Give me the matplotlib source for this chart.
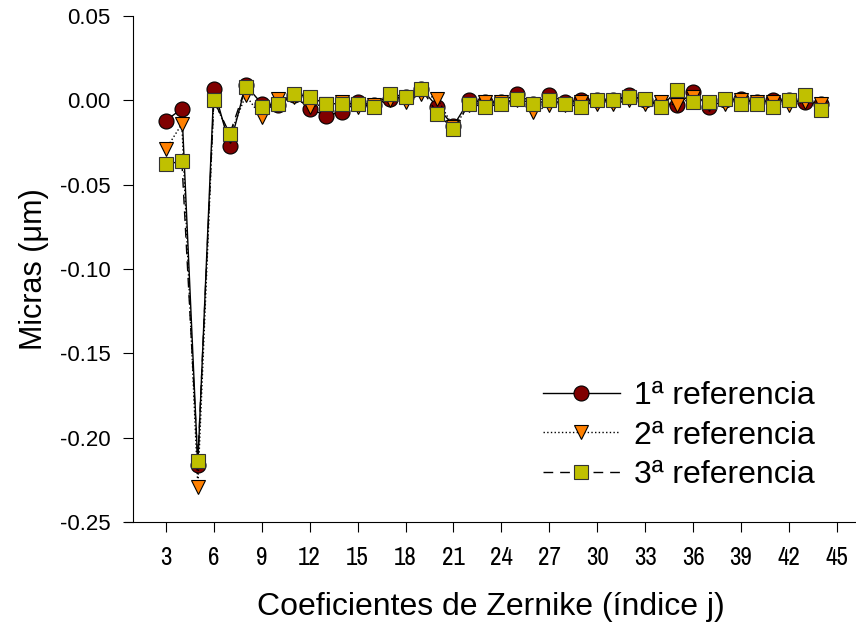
import numpy as np
import matplotlib.pyplot as plt
from matplotlib import font_manager

plt.rcParams['font.family'] = ['Liberation Sans', 'DejaVu Sans']

# indice j de Zernike
j = list(range(3, 45))

ref1 = [-0.012, -0.005, -0.216, 0.007, -0.027, 0.009, -0.002, -0.003, 0.003, -0.005,
        -0.009, -0.007, -0.001, -0.003, 0.001, 0.002, 0.007, -0.004, -0.015, 0.000,
        -0.001, -0.001, 0.004, -0.002, 0.003, -0.001, 0.000, 0.000, 0.000, 0.003,
        0.000, -0.002, -0.003, 0.005, -0.004, 0.000, 0.001, -0.001, 0.000, 0.000,
        -0.001, -0.002]

ref2 = [-0.029, -0.014, -0.229, 0.000, -0.021, 0.003, -0.010, 0.001, 0.002, -0.004,
        -0.002, -0.001, -0.004, -0.003, 0.000, -0.001, 0.004, 0.001, -0.016, -0.003,
        -0.001, -0.001, 0.000, -0.007, -0.003, -0.003, -0.001, -0.002, -0.002, 0.000,
        -0.002, -0.001, -0.003, 0.002, -0.002, -0.002, 0.000, -0.001, -0.001, -0.003,
        -0.001, -0.002]

ref3 = [-0.038, -0.036, -0.214, 0.000, -0.020, 0.008, -0.004, -0.002, 0.004, 0.002,
        -0.002, -0.002, -0.002, -0.004, 0.004, 0.002, 0.007, -0.008, -0.017, -0.002,
        -0.004, -0.002, 0.001, -0.002, 0.000, -0.002, -0.004, 0.000, 0.000, 0.002,
        0.001, -0.004, 0.006, -0.001, -0.001, 0.001, -0.002, -0.002, -0.004, 0.000,
        0.003, -0.006]

xticks = list(range(3, 46, 3))
yticks = [-0.25, -0.20, -0.15, -0.10, -0.05, 0.00, 0.05]

# fuente estrecha para las etiquetas del eje x si existe
narrow = [f.name for f in font_manager.fontManager.ttflist if 'Narrow' in f.name]
xfam = [narrow[0], 'Liberation Sans'] if narrow else ['Liberation Sans']

fig = plt.figure(figsize=(8.56, 6.25), dpi=100)
ax = fig.add_axes([0.146, 0.1648, 0.854, 0.8096])

ax.plot(j, ref1, '-', c='black', lw=1.0, marker='o', ms=10.8, mfc='#800000',
        mec='black', mew=0.8, label='1ª referencia', zorder=3)
ax.plot(j, ref2, ':', c='black', lw=1.0, marker='v', ms=10.5, mfc='#FF8000',
        mec='black', mew=0.8, label='2ª referencia', zorder=4)
ax.plot(j, ref3, c='black', lw=1.0, ls=(0, (7, 5)), marker='s', ms=10, mfc='#C0C000',
        mec='#333333', mew=0.8, label='3ª referencia', zorder=5)

ax.spines['top'].set_visible(False)
ax.spines['right'].set_visible(False)
ax.spines['left'].set_position(('axes', 0.011))

ax.set_xlim(0.44, 46.2)
ax.set_ylim(-0.25, 0.05)
ax.set_xticks(xticks)
ax.set_xticklabels([str(v) for v in xticks], family=xfam,
                   fontsize=18 if narrow else 16)
ax.set_yticks(yticks)
ax.set_yticklabels(['%.2f' % v for v in yticks], fontsize=16)

ax.tick_params(axis='both', direction='out', length=7, width=0.8)
ax.tick_params(axis='x', pad=10)
ax.tick_params(axis='y', pad=9, labelsize=16)

ax.set_xlabel('Coeficientes de Zernike (índice j)', fontsize=23, labelpad=17)
ax.set_ylabel('Micras (\u03bcm)', fontsize=22, labelpad=8)

ax.legend(loc='upper left', bbox_to_anchor=(543 / 856, 1 - 381 / 625),
          bbox_transform=fig.transFigure, frameon=False, fontsize=23,
          handlelength=2.4, handletextpad=0.45, labelspacing=0.3,
          borderpad=0, borderaxespad=0)

plt.savefig('out.png', dpi=100)
